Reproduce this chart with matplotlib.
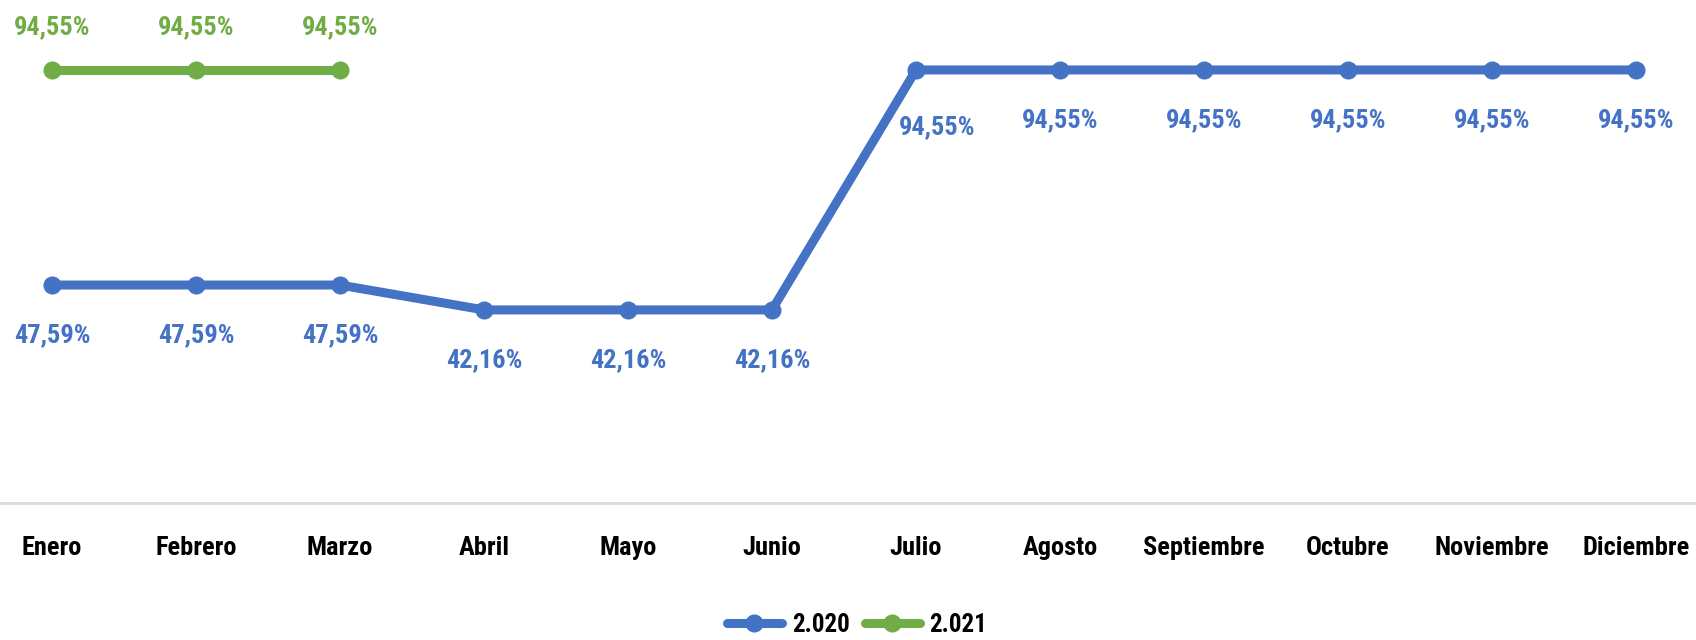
import matplotlib
matplotlib.use("Agg")
import matplotlib.pyplot as plt
from matplotlib.lines import Line2D

months = ["Enero", "Febrero", "Marzo", "Abril", "Mayo", "Junio", "Julio",
          "Agosto", "Septiembre", "Octubre", "Noviembre", "Diciembre"]
s2020 = [47.59, 47.59, 47.59, 42.16, 42.16, 42.16, 94.55, 94.55, 94.55, 94.55, 94.55, 94.55]
s2021 = [94.55, 94.55, 94.55]
labels_series = ["2.020", "2.021"]

BLUE = "#4472C4"
GREEN = "#70AD47"
plt.rcParams['font.family'] = ['Roboto Condensed', 'Liberation Sans', 'DejaVu Sans']

W, H = 1696, 640
fig = plt.figure(figsize=(W / 100, H / 100), dpi=100)
ax = fig.add_axes([0, 1 - 503 / H, 1, (503 - 45) / H])

LW, MS = 6.5, 12
x20 = list(range(len(s2020)))
x21 = list(range(len(s2021)))
ax.plot(x20, s2020, color=BLUE, lw=LW, marker="o", ms=MS, solid_capstyle="round", zorder=3)
ax.plot(x21, s2021, color=GREEN, lw=LW, marker="o", ms=MS, solid_capstyle="round", zorder=3)

def fmt(v):
    return f"{v:.2f}".replace(".", ",") + "%"

for x, v in zip(x20, s2020):
    off = (0, -36)
    if x == 6:
        off = (15, -41)
    ax.annotate(fmt(v), (x, v), xytext=off, textcoords="offset points",
                ha="center", va="center", color=BLUE, fontsize=19, fontweight="bold")
for x, v in zip(x21, s2021):
    ax.annotate(fmt(v), (x, v), xytext=(0, 31), textcoords="offset points",
                ha="center", va="center", color=GREEN, fontsize=19, fontweight="bold",
                annotation_clip=False)

ax.set_xlim(-52 / 144, (W - 52) / 144)
ax.set_ylim(0, 100)
ax.set_xticks(x20)
ax.set_xticklabels(months, fontsize=19, fontweight="bold")
ax.tick_params(axis="x", length=0, pad=24)
ax.set_yticks([])
for s in ["top", "left", "right"]:
    ax.spines[s].set_visible(False)
ax.spines["bottom"].set_color("#D9D9D9")
ax.spines["bottom"].set_linewidth(2)
ax.set_facecolor("none")

handles = [Line2D([], [], color=BLUE, lw=LW, marker="o", ms=MS, solid_capstyle="round"),
           Line2D([], [], color=GREEN, lw=LW, marker="o", ms=MS, solid_capstyle="round")]
fig.legend(handles, labels_series, loc="center", bbox_to_anchor=(857 / W, 1 - 625 / H),
           ncol=2, frameon=False, prop={"weight": "bold", "size": 18},
           handlelength=2.2, columnspacing=0.6, handletextpad=0.4)

fig.savefig("out.png", dpi=100)
